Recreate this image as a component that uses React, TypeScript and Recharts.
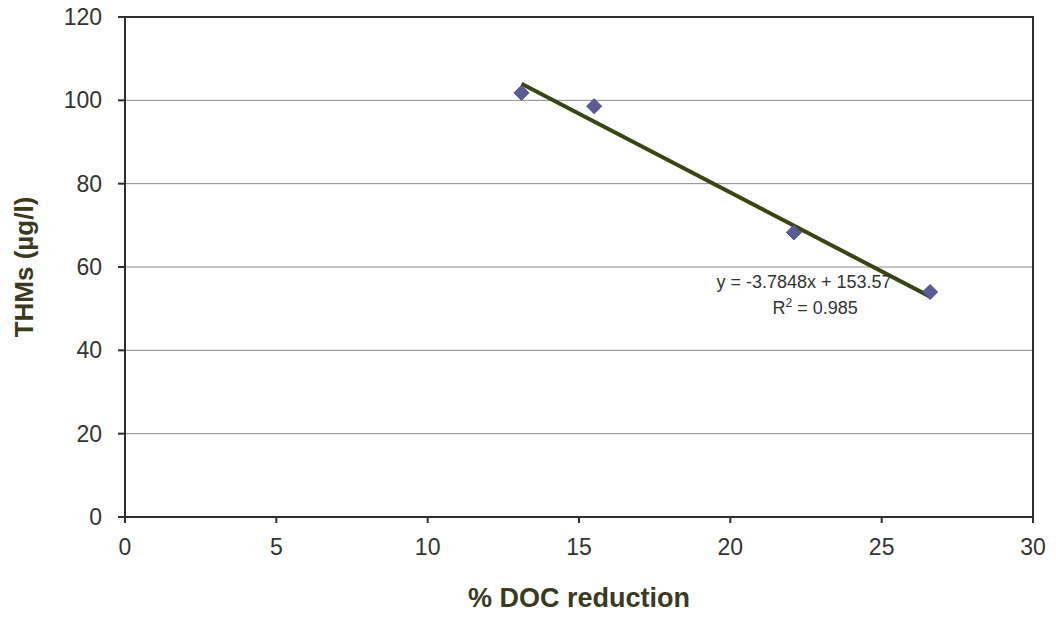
import React from 'react';
import {
    ComposedChart,
    Scatter,
    Line,
    XAxis,
    YAxis,
    CartesianGrid,
    ReferenceArea,
    ReferenceDot,
    Label
} from 'recharts';

// measured points (% DOC reduction vs THMs)
const docReduction = [13.1, 15.5, 22.1, 26.6];
const thms = [101.8, 98.6, 68.3, 54.0];

// linear fit shown in the chart
const slope = -3.7848;
const intercept = 153.57;
const fitRange = [13.1, 26.6];

const xTicks = [0, 5, 10, 15, 20, 25, 30];
const yTicks = [0, 20, 40, 60, 80, 100, 120];

const points = docReduction.map((x, i) => ({ x, y: thms[i] }));
const trend = fitRange.map((x) => ({ x, y: slope * x + intercept }));

const FONT = '"Liberation Sans", Arial, sans-serif';
const TITLE_COLOR = '#3b3a1f';

const Diamond = (props: any) => {
    const { cx, cy } = props;
    const r = 7.5;
    return (
        <polygon
            points={`${cx},${cy - r} ${cx + r},${cy} ${cx},${cy + r} ${cx - r},${cy}`}
            fill="#5b5c96"
            stroke="#4a4b85"
            strokeWidth={1}
        />
    );
};

const EquationLabel = (props: any) => {
    const { cx, cy } = props;
    return (
        <g fontFamily={FONT} fontSize={18} fill="#333">
            <text x={cx - 11} y={cy} textAnchor="middle">
                y = -3.7848x + 153.57
            </text>
            <text x={cx} y={cy + 26} textAnchor="middle">
                R<tspan dy={-7} fontSize={12}>2</tspan>
                <tspan dy={7}> = 0.985</tspan>
            </text>
        </g>
    );
};

export default function App() {
    return (
        <div style={{ position: 'absolute', left: 0, top: 0, background: '#fff' }}>
            <ComposedChart
                width={1056}
                height={617}
                margin={{ top: 17, right: 23, bottom: 0, left: 0 }}
            >
                <CartesianGrid vertical={false} stroke="#8a8a8a" strokeWidth={1} />
                <XAxis
                    type="number"
                    dataKey="x"
                    domain={[0, 30]}
                    ticks={xTicks}
                    interval={0}
                    height={100}
                    tickSize={6}
                    tickMargin={16}
                    stroke="#2e2e2e"
                    strokeWidth={2}
                    tick={{ fontFamily: FONT, fontSize: 23, fill: '#333' }}
                    allowDataOverflow
                >
                    <Label
                        value="% DOC reduction"
                        position="insideBottom"
                        offset={10}
                        style={{ fontFamily: FONT, fontSize: 27, fontWeight: 'bold', fill: TITLE_COLOR }}
                    />
                </XAxis>
                <YAxis
                    type="number"
                    dataKey="y"
                    domain={[0, 120]}
                    ticks={yTicks}
                    interval={0}
                    width={125}
                    tickSize={7}
                    tickMargin={16}
                    stroke="#2e2e2e"
                    strokeWidth={2}
                    tick={{ fontFamily: FONT, fontSize: 23, fill: '#333' }}
                    allowDataOverflow
                >
                    <Label
                        value="THMs (µg/l)"
                        angle={-90}
                        position="insideLeft"
                        offset={24}
                        style={{
                            fontFamily: FONT,
                            fontSize: 26,
                            fontWeight: 'bold',
                            fill: TITLE_COLOR,
                            textAnchor: 'middle'
                        }}
                    />
                </YAxis>
                <ReferenceArea
                    x1={0}
                    x2={30}
                    y1={0}
                    y2={120}
                    fill="none"
                    stroke="#2e2e2e"
                    strokeWidth={2}
                    ifOverflow="visible"
                />
                <Scatter
                    data={points}
                    dataKey="y"
                    shape={<Diamond />}
                    isAnimationActive={false}
                />
                <Line
                    data={trend}
                    dataKey="y"
                    type="linear"
                    stroke="#3a4516"
                    strokeWidth={4}
                    dot={false}
                    activeDot={false}
                    isAnimationActive={false}
                />
                <ReferenceDot
                    x={22.8}
                    y={55}
                    r={0}
                    ifOverflow="visible"
                    shape={<EquationLabel />}
                />
            </ComposedChart>
        </div>
    );
}
